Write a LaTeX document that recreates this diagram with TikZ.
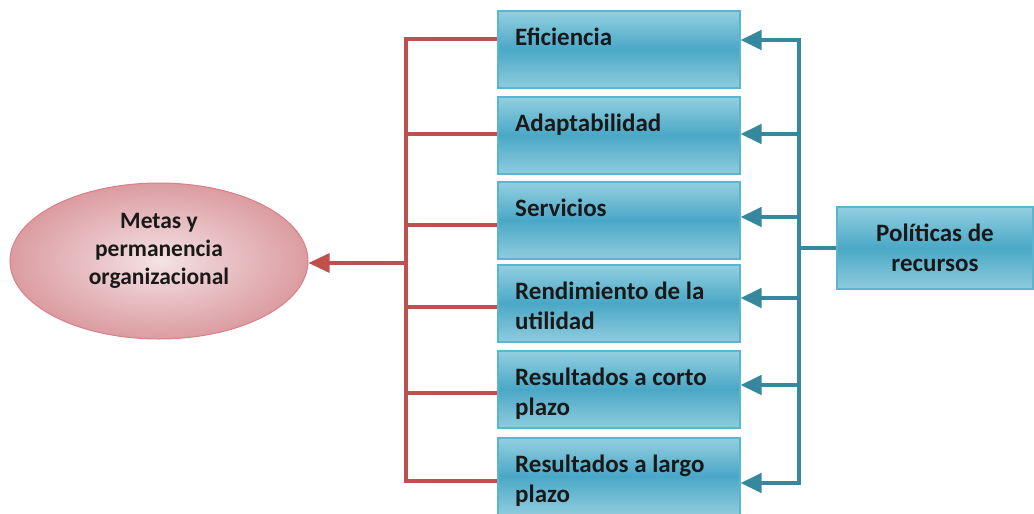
\documentclass[tikz,border=0pt]{standalone}
\usepackage{fontspec}
\setmainfont{Carlito}
\usepackage{tikz}
\usetikzlibrary{arrows.meta,shapes.geometric}
\definecolor{boxtop}{HTML}{93CFE0}
\definecolor{boxmid}{HTML}{4AA8C6}
\definecolor{boxbot}{HTML}{8FCCDD}
\definecolor{boxline}{HTML}{5AB5D0}
\definecolor{bluelink}{HTML}{36889F}
\definecolor{redlink}{HTML}{C0504D}
\definecolor{elin}{HTML}{F4E2E4}
\definecolor{elout}{HTML}{DB9CA1}
\definecolor{elline}{HTML}{D98088}
\tikzset{
  txt/.style = {font=\fontsize{25}{30}\selectfont\bfseries, text=black!90},
  item_b/.style = {rectangle, draw=boxline, line width=1.5pt,
    top color=boxtop, bottom color=boxbot, middle color=boxmid,
    minimum width=242pt, minimum height=77pt, anchor=north west},% caja azul
  item_l/.style = {txt, anchor=north west, align=left, inner sep=0pt,
    xshift=18pt, yshift=-18pt},% texto de la caja
  goal_e/.style = {ellipse, draw=elline, line width=1pt, inner color=elin,
    outer color=elout, minimum width=298pt, minimum height=156pt},% elipse roja
  goal_l/.style = {font=\fontsize{23.5}{28}\selectfont\bfseries, text=black!90,
    align=center, yshift=10pt},
  redln/.style = {draw=redlink, line width=3.2pt},
  blueln/.style = {draw=bluelink, line width=4.2pt}
}
\begin{document}
\begin{tikzpicture}[x=1pt,y=-1pt,>={Triangle[length=21pt, width=19pt]}]
  \useasboundingbox (0,0) rectangle (1034,514);
  % cajas
  \node [item_b, label={[item_l]north west:Eficiencia}] (ef) at (497,10) {};
  \node [item_b, label={[item_l]north west:Adaptabilidad}] (ad) at (497,96) {};
  \node [item_b, label={[item_l]north west:Servicios}] (se) at (497,181) {};
  \node [item_b, label={[item_l]north west:Rendimiento de la\\utilidad}] (re) at (497,264) {};
  \node [item_b, label={[item_l]north west:Resultados a corto\\plazo}] (rc) at (497,350) {};
  \node [item_b, label={[item_l]north west:Resultados a largo\\plazo}] (rl) at (497,437) {};
  \node [item_b, anchor=center, minimum width=196pt, minimum height=82pt, txt,
    align=center] (pol) at (935,248) {Políticas de\\recursos};
  \node [goal_e, label={[goal_l]center:Metas y\\permanencia\\organizacional}]
    (meta) at (159,261) {};
  % lado rojo
  \coordinate (r1) at (406,39);  \coordinate (r2) at (406,134);
  \coordinate (r3) at (406,225); \coordinate (r4) at (406,307);
  \coordinate (r5) at (406,393); \coordinate (r6) at (406,481);
  \coordinate (rm) at (406,263);
  \draw [redln] (r1 -| ef.west) -- (r1) -- (r6) -- (r6 -| rl.west);
  \draw [redln] (r2) -- (r2 -| ad.west);
  \draw [redln] (r3) -- (r3 -| se.west);
  \draw [redln] (r4) -- (r4 -| re.west);
  \draw [redln] (r5) -- (r5 -| rc.west);
  \draw [redln, ->] (rm) -- (rm -| meta.east);
  % lado azul
  \coordinate (b1) at (799,40);  \coordinate (b2) at (799,134);
  \coordinate (b3) at (799,217); \coordinate (b4) at (799,298);
  \coordinate (b5) at (799,385); \coordinate (b6) at (799,483);
  \draw [blueln, <->] (b1 -| ef.east) -- (b1) -- (b6) -- (b6 -| rl.east);
  \draw [blueln, ->] (b2) -- (b2 -| ad.east);
  \draw [blueln, ->] (b3) -- (b3 -| se.east);
  \draw [blueln, ->] (b4) -- (b4 -| re.east);
  \draw [blueln, ->] (b5) -- (b5 -| rc.east);
  \draw [blueln] (pol.west) -- (pol.west -| b1);
\end{tikzpicture}
\end{document}
